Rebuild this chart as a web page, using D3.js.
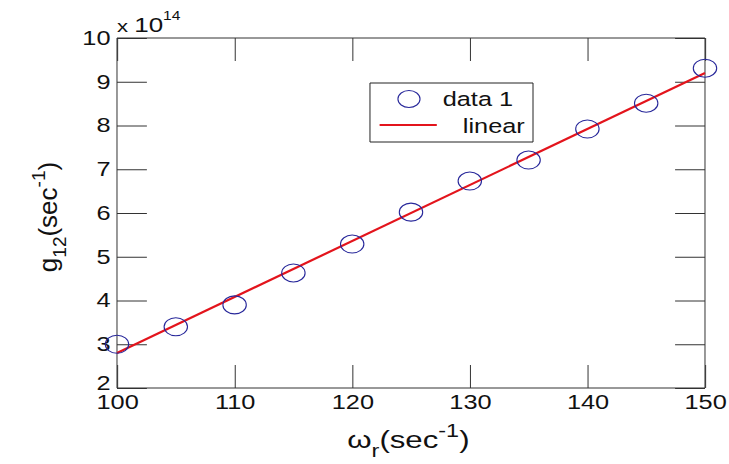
<!DOCTYPE html>
<html>
<head>
<meta charset="utf-8">
<script src="https://cdn.jsdelivr.net/npm/d3@7"></script>
<style>
  html, body { margin: 0; padding: 0; background: #fff; }
  svg { display: block; font-family: "Liberation Sans", Arial, sans-serif; }
  .frame line, .frame path { vector-effect: non-scaling-stroke; }
</style>
</head>
<body>
<div id="chart"></div>
<script>
const omegaR = [100, 105, 110, 115, 120, 125, 130, 135, 140, 145, 150];
const g12 = [3.0, 3.4, 3.9, 4.63, 5.29, 6.02, 6.73, 7.21, 7.92, 8.51, 9.31];
const linearFit = [[100, 2.8], [150, 9.2]];
const xTicks = [100, 110, 120, 130, 140, 150];
const yTicks = [2, 3, 4, 5, 6, 7, 8, 9, 10];

const W = 729, H = 464;
const S = 1.3; // the source image is stretched sideways
const plot = { left: 90, right: 542.3, top: 38, bottom: 388 };

const svg = d3.select('#chart').append('svg')
  .attr('width', W).attr('height', H);

// everything except the y label lives in a horizontally stretched group
const g = svg.append('g').attr('transform', `scale(${S},1)`);

const x = d3.scaleLinear().domain([100, 150]).range([plot.left, plot.right]);
const y = d3.scaleLinear().domain([2, 10]).range([plot.bottom, plot.top]);

const tickLen = 23;
const axisColor = '#333';

function styleAxis(sel) {
  sel.attr('class', 'frame');
  sel.select('.domain').remove();
  sel.selectAll('.tick line').attr('stroke', axisColor).attr('stroke-width', 1);
  sel.selectAll('.tick text').attr('fill', '#111').attr('font-size', 19.5)
    .attr('font-family', '"Liberation Sans", Arial, sans-serif');
}

g.append('g').attr('transform', `translate(0,${plot.bottom})`)
  .call(d3.axisBottom(x).tickValues(xTicks).tickSizeInner(-tickLen).tickSizeOuter(0).tickPadding(7))
  .call(styleAxis);
g.append('g').attr('transform', `translate(0,${plot.top})`)
  .call(d3.axisTop(x).tickValues(xTicks).tickSizeInner(-tickLen).tickSizeOuter(0).tickFormat(''))
  .call(styleAxis);
g.append('g').attr('transform', `translate(${plot.left},0)`)
  .call(d3.axisLeft(y).tickValues(yTicks).tickSizeInner(-tickLen).tickSizeOuter(0).tickPadding(5))
  .call(styleAxis)
  .call(a => a.selectAll('.tick text').filter(d => d === 2).attr('dy', '0.1em'));
g.append('g').attr('transform', `translate(${plot.right},0)`)
  .call(d3.axisRight(y).tickValues(yTicks).tickSizeInner(-tickLen).tickSizeOuter(0).tickFormat(''))
  .call(styleAxis);

// axes box
g.append('rect')
  .attr('x', plot.left).attr('y', plot.top)
  .attr('width', plot.right - plot.left).attr('height', plot.bottom - plot.top)
  .attr('fill', 'none').attr('stroke', axisColor).attr('stroke-width', 1)
  .style('vector-effect', 'non-scaling-stroke');

// exponent label
const expo = g.append('text').attr('x', plot.left).attr('y', 32)
  .attr('font-size', 20).attr('fill', '#111');
expo.append('tspan').attr('font-size', 17).text('x ');
expo.append('tspan').text('10');
expo.append('tspan').attr('font-size', 12).attr('dy', -12).text('14');

// fit line
g.append('path')
  .datum(linearFit)
  .attr('d', d3.line().x(d => x(d[0])).y(d => y(d[1])))
  .attr('fill', 'none').attr('stroke', '#e3141c').attr('stroke-width', 2.2)
  .style('vector-effect', 'non-scaling-stroke');

// data markers
g.append('g').selectAll('ellipse').data(omegaR).join('ellipse')
  .attr('cx', (d) => x(d))
  .attr('cy', (d, i) => y(g12[i]))
  .attr('rx', 9).attr('ry', 9)
  .attr('fill', 'none').attr('stroke', '#27279a').attr('stroke-width', 1.1)
  .style('vector-effect', 'non-scaling-stroke');

// legend
const lg = g.append('g');
lg.append('rect').attr('x', 284.6).attr('y', 83).attr('width', 125.4).attr('height', 59)
  .attr('fill', '#fff').attr('stroke', '#222').attr('stroke-width', 1)
  .style('vector-effect', 'non-scaling-stroke');
lg.append('ellipse').attr('cx', 314.6).attr('cy', 99).attr('rx', 8.5).attr('ry', 8.5)
  .attr('fill', 'none').attr('stroke', '#27279a').attr('stroke-width', 1.1)
  .style('vector-effect', 'non-scaling-stroke');
lg.append('text').attr('x', 340.5).attr('y', 106).attr('font-size', 19.5).attr('fill', '#111').text('data 1');
lg.append('line').attr('x1', 292).attr('x2', 336).attr('y1', 125).attr('y2', 125)
  .attr('stroke', '#e3141c').attr('stroke-width', 2.2)
  .style('vector-effect', 'non-scaling-stroke');
lg.append('text').attr('x', 356).attr('y', 133).attr('font-size', 19.5).attr('fill', '#111').text('linear');

// x label
const xl = g.append('text')
  .attr('x', (plot.left + plot.right) / 2 - 2).attr('y', 448)
  .attr('text-anchor', 'middle').attr('font-size', 24).attr('fill', '#111');
xl.append('tspan').text('ω');
xl.append('tspan').attr('font-size', 18).attr('dy', 9).text('r');
xl.append('tspan').attr('dy', -9).text('(sec');
xl.append('tspan').attr('font-size', 18).attr('dy', -11).text('-1');
xl.append('tspan').attr('dy', 11).text(')');

// y label (unstretched)
const yl = svg.append('text')
  .attr('transform', 'translate(57,217) rotate(-90)')
  .attr('text-anchor', 'middle').attr('font-size', 26).attr('fill', '#111');
yl.append('tspan').text('g');
yl.append('tspan').attr('font-size', 19).attr('dy', 9).text('12');
yl.append('tspan').attr('dy', -9).text('(sec');
yl.append('tspan').attr('font-size', 19).attr('dy', -12).text('-1');
yl.append('tspan').attr('dy', 12).text(')');
</script>
</body>
</html>
